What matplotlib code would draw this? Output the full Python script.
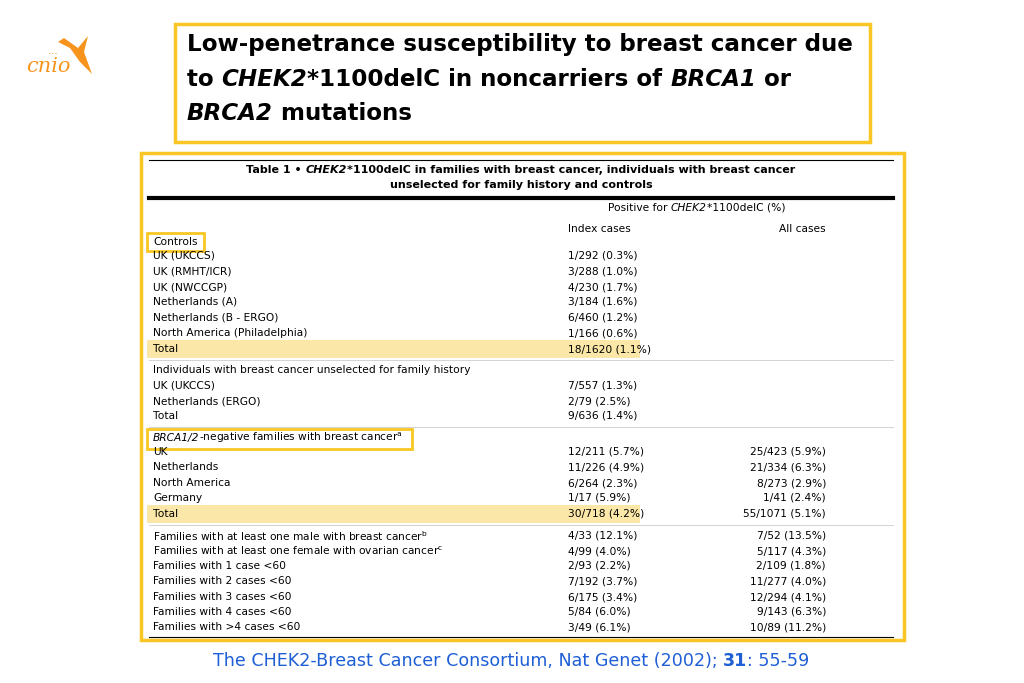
import matplotlib
matplotlib.use("Agg")
from matplotlib import pyplot as plt
from matplotlib.patches import Rectangle, Polygon

ORANGE = "#f7941d"
YELLOW = "#f9c623"
HILITE = "#fbe8a8"
BLUE = "#1f5fd6"

title_lines = [
    [("Low-penetrance susceptibility to breast cancer due", "normal")],
    [("to ", "normal"), ("CHEK2", "italic"), ("*1100delC in noncarriers of ", "normal"),
     ("BRCA1", "italic"), (" or", "normal")],
    [("BRCA2", "italic"), (" mutations", "normal")],
]

groups = [
    ("Controls", [
        ("UK (UKCCS)", "1/292 (0.3%)", ""),
        ("UK (RMHT/ICR)", "3/288 (1.0%)", ""),
        ("UK (NWCCGP)", "4/230 (1.7%)", ""),
        ("Netherlands (A)", "3/184 (1.6%)", ""),
        ("Netherlands (B - ERGO)", "6/460 (1.2%)", ""),
        ("North America (Philadelphia)", "1/166 (0.6%)", ""),
        ("Total", "18/1620 (1.1%)", ""),
    ]),
    ("Individuals with breast cancer unselected for family history", [
        ("UK (UKCCS)", "7/557 (1.3%)", ""),
        ("Netherlands (ERGO)", "2/79 (2.5%)", ""),
        ("Total", "9/636 (1.4%)", ""),
    ]),
    ("BRCA1/2-negative families with breast cancer", [
        ("UK", "12/211 (5.7%)", "25/423 (5.9%)"),
        ("Netherlands", "11/226 (4.9%)", "21/334 (6.3%)"),
        ("North America", "6/264 (2.3%)", "8/273 (2.9%)"),
        ("Germany", "1/17 (5.9%)", "1/41 (2.4%)"),
        ("Total", "30/718 (4.2%)", "55/1071 (5.1%)"),
    ]),
    (None, [
        ("Families with at least one male with breast cancer$^{\\mathrm{b}}$", "4/33 (12.1%)", "7/52 (13.5%)"),
        ("Families with at least one female with ovarian cancer$^{\\mathrm{c}}$", "4/99 (4.0%)", "5/117 (4.3%)"),
        ("Families with 1 case <60", "2/93 (2.2%)", "2/109 (1.8%)"),
        ("Families with 2 cases <60", "7/192 (3.7%)", "11/277 (4.0%)"),
        ("Families with 3 cases <60", "6/175 (3.4%)", "12/294 (4.1%)"),
        ("Families with 4 cases <60", "5/84 (6.0%)", "9/143 (6.3%)"),
        ("Families with >4 cases <60", "3/49 (6.1%)", "10/89 (11.2%)"),
    ]),
]
group_y = [242, 370, 438, None]
row_y = [
    [256, 271, 287, 302, 317, 333, 349],
    [385, 401, 416],
    [452, 467, 483, 498, 514],
    [536, 551, 566, 581, 597, 612, 627],
]

fig = plt.figure(figsize=(10.24, 6.83), dpi=100)
ax = fig.add_axes([0, 0, 1, 1])
ax.set_xlim(0, 1024)
ax.set_ylim(683, 0)
ax.axis("off")
fig.canvas.draw()
renderer = fig.canvas.get_renderer()
to_data = ax.transData.inverted()


def segments(x, y, parts, size, weight="normal", color="black", ha="left"):
    # draw mixed pieces (style or weight) one after the other
    texts = []
    cx = x
    for s, style in parts:
        w = "bold" if style == "bold" else weight
        st = "italic" if style == "italic" else "normal"
        t = ax.text(cx, y, s, fontsize=size, fontweight=w, style=st,
                    color=color, va="center", ha="left")
        bb = t.get_window_extent(renderer)
        cx = to_data.transform((bb.x1, 0))[0]
        texts.append(t)
    if ha == "center":
        shift = (cx - x) / 2
        for t in texts:
            px, py = t.get_position()
            t.set_position((px - shift, py))


# logo
ax.add_patch(Polygon([[58, 42], [70, 48], [80, 62], [92, 74], [84, 52], [88, 36], [78, 48], [64, 38]],
                     closed=True, color=ORANGE, lw=0))
ax.text(26, 67, "cnio", fontsize=15, style="italic", color=ORANGE, family="DejaVu Serif",
        va="center")
ax.text(48, 51, "...", fontsize=8, color=ORANGE, va="center")

# title box
ax.add_patch(Rectangle((175, 24), 695, 118, fill=False, ec=YELLOW, lw=2.5))
for i, line in enumerate(title_lines):
    segments(187, 45 + i * 34, line, 16.6, weight="bold")

# table box
ax.add_patch(Rectangle((141, 153), 763, 487, fill=False, ec=YELLOW, lw=2.5))
ax.plot([149, 893], [160, 160], color="black", lw=0.8)
ax.plot([149, 893], [198, 198], color="black", lw=3)
segments(521, 170, [("Table 1 \u2022 ", "normal"), ("CHEK2", "italic"),
                    ("*1100delC in families with breast cancer, individuals with breast cancer", "normal")],
         8, weight="bold", ha="center")
ax.text(521, 185, "unselected for family history and controls", fontsize=8,
        fontweight="bold", ha="center", va="center")
segments(608, 208, [("Positive for ", "normal"), ("CHEK2", "italic"), ("*1100delC (%)", "normal")], 7.7)
ax.text(568, 229, "Index cases", fontsize=7.7, va="center")
ax.text(826, 229, "All cases", fontsize=7.7, va="center", ha="right")

# highlighted totals
for yy in (349, 514):
    ax.add_patch(Rectangle((147, yy - 9), 493, 18, color=HILITE, lw=0))
ax.plot([149, 893], [360, 360], color="#cccccc", lw=0.6)
ax.plot([149, 893], [427, 427], color="#cccccc", lw=0.6)
ax.plot([149, 893], [525, 525], color="#cccccc", lw=0.6)
ax.plot([149, 893], [637, 637], color="black", lw=0.8)

ax.add_patch(Rectangle((147, 233), 57, 18, fill=False, ec=YELLOW, lw=2))
ax.add_patch(Rectangle((147, 429), 265, 20, fill=False, ec=YELLOW, lw=2))

for (head, rows), gy, ys in zip(groups, group_y, row_y):
    if head is not None:
        if head.startswith("BRCA1/2"):
            segments(153, gy, [("BRCA1/2", "italic"),
                               ("-negative families with breast cancer$^{\\mathrm{a}}$", "normal")], 7.7)
        else:
            ax.text(153, gy, head, fontsize=7.7, va="center")
    for (label, idx, allc), yy in zip(rows, ys):
        ax.text(153, yy, label, fontsize=7.7, va="center")
        ax.text(568, yy, idx, fontsize=7.7, va="center")
        if allc:
            ax.text(826, yy, allc, fontsize=7.7, va="center", ha="right")

segments(511, 661, [("The CHEK2-Breast Cancer Consortium, Nat Genet (2002); ", "normal"),
                    ("31", "bold"), (": 55-59", "normal")], 12.6, color=BLUE, ha="center")

fig.savefig("out.png", dpi=100)
